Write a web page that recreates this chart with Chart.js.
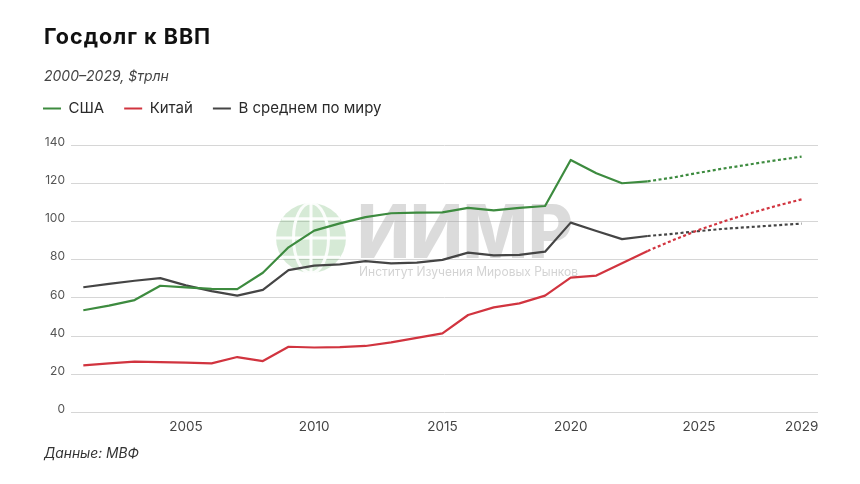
<!DOCTYPE html>
<html><head><meta charset="utf-8">
<script src="https://cdn.jsdelivr.net/npm/chart.js@4"></script>
<style>
html,body{margin:0;padding:0;background:#fff;}
#wrap{position:relative;width:860px;height:484px;overflow:hidden;font-family:Inter,"Noto Sans",sans-serif;}
#c{position:absolute;left:0;top:0;width:860px;height:484px;}
.t{position:absolute;white-space:nowrap;line-height:1;}
#title{left:44px;top:25.5px;font-size:21.5px;font-weight:700;color:#111;letter-spacing:1px;}
#sub{left:44px;top:68.5px;font-size:14px;font-style:italic;color:#444;}
#src{left:44px;top:446.5px;font-size:13.8px;font-style:italic;color:#333;}
</style></head><body>
<div id="wrap">
<canvas id="c" width="860" height="484"></canvas>
<div class="t" id="title">Госдолг к ВВП</div>
<div class="t" id="sub">2000–2029, $трлн</div>
<div class="t" id="src">Данные: МВФ</div>
</div>
<script>
const years = [2001,2002,2003,2004,2005,2006,2007,2008,2009,2010,2011,2012,2013,2014,2015,2016,2017,2018,2019,2020,2021,2022,2023,2024,2025,2026,2027,2028,2029];
const usa   = [53.6,56.0,58.9,66.4,65.5,64.8,64.6,73.2,86.5,95.2,99.0,102.3,104.3,104.6,104.8,107.1,105.8,107.1,108.1,132.2,125.2,120.0,121.0,123.0,125.5,127.8,129.9,132.0,133.9];
const china = [24.8,25.8,26.7,26.4,26.2,25.8,29.1,27.0,34.5,34.1,34.3,34.9,36.8,39.1,41.5,51.1,55.1,57.2,61.2,70.6,71.7,78.1,84.6,90.3,95.6,100.2,104.3,108.1,111.6];
const world = [65.6,67.4,69.0,70.4,66.6,63.6,61.2,64.2,74.6,76.9,77.6,79.3,78.1,78.5,79.9,83.7,82.3,82.5,84.2,99.4,95.0,90.8,92.4,93.6,95.0,96.2,97.1,98.0,98.9];
const forecastFrom = 2023;
const seriesNames = ['США','Китай','В среднем по миру'];
const seriesColors = ['#3d8b3f','#d1343f','#454545'];
const xTickYears = [2005,2010,2015,2020,2025,2029];
const yMin = 0, yMax = 140, yStep = 20;
const watermarkTitle = 'ИИМР';
const watermarkSub = 'Институт Изучения Мировых Рынков';

const seriesValues = [usa, china, world];
const FONT = 'Inter, "Noto Sans", sans-serif';

const datasets = seriesValues.map((vals, k) => ({
  label: seriesNames[k],
  data: years.map((yr, i) => ({x: yr, y: vals[i]})),
  borderColor: seriesColors[k],
  backgroundColor: seriesColors[k],
  borderWidth: 2.2,
  pointRadius: 0,
  pointHoverRadius: 0,
  tension: 0,
  borderCapStyle: 'butt',
  borderJoinStyle: 'round',
  segment: {
    borderDash: ctx => ctx.p0.parsed.x >= forecastFrom ? [3, 2.5] : undefined
  }
}));

const watermark = {
  id: 'watermark',
  beforeDatasetsDraw(chart) {
    const ctx = chart.ctx;
    ctx.save();
    const cx = 311, cy = 238, r = 35;
    ctx.fillStyle = 'rgba(70,160,70,0.22)';
    ctx.beginPath(); ctx.arc(cx, cy, r, 0, Math.PI * 2); ctx.fill();
    ctx.strokeStyle = 'rgba(255,255,255,0.9)';
    ctx.lineWidth = 3;
    ctx.beginPath(); ctx.moveTo(cx - r, cy); ctx.lineTo(cx + r, cy); ctx.stroke();
    ctx.beginPath(); ctx.moveTo(cx, cy - r); ctx.lineTo(cx, cy + r); ctx.stroke();
    ctx.beginPath(); ctx.ellipse(cx, cy, r * 0.5, r, 0, 0, Math.PI * 2); ctx.stroke();
    [-0.55, 0.55].forEach(f => {
      const yy = cy + f * r, hw = Math.sqrt(r * r - (f * r) * (f * r));
      ctx.beginPath(); ctx.moveTo(cx - hw, yy); ctx.lineTo(cx + hw, yy); ctx.stroke();
    });
    ctx.fillStyle = 'rgba(150,150,150,0.34)';
    ctx.font = '800 74px ' + FONT;
    ctx.textBaseline = 'alphabetic';
    ctx.textAlign = 'left';
    ctx.fillText(watermarkTitle, 357, 258, 216);
    ctx.fillStyle = 'rgba(150,150,150,0.42)';
    ctx.font = '12.5px ' + FONT;
    ctx.textBaseline = 'middle';
    ctx.fillText(watermarkSub, 359, 272, 219);
    ctx.restore();
  }
};

const legendSpacer = {
  id: 'legendSpacer',
  beforeInit(chart) {
    const origFit = chart.legend.fit;
    chart.legend.fit = function () {
      origFit.call(this);
      this.height += 19;
    };
  }
};

new Chart(document.getElementById('c'), {
  type: 'line',
  data: {datasets},
  plugins: [legendSpacer, watermark],
  options: {
    responsive: false,
    animation: false,
    events: [],
    layout: {padding: {top: 81, left: 23, right: 42, bottom: 41.3}},
    plugins: {
      tooltip: {enabled: false},
      legend: {
        position: 'top',
        align: 'start',
        labels: {
          boxWidth: 18,
          boxHeight: 2,
          padding: 20,
          color: '#2a2a2a',
          font: {family: FONT, size: 15},
          generateLabels: () => seriesNames.map((n, i) => ({
            text: n, fillStyle: seriesColors[i], strokeStyle: seriesColors[i],
            lineWidth: 0, hidden: false, datasetIndex: i, fontColor: '#2a2a2a'
          }))
        }
      }
    },
    scales: {
      x: {
        type: 'linear',
        min: 2000.52,
        max: 2029.64,
        afterBuildTicks: s => { s.ticks = xTickYears.map(v => ({value: v})); },
        afterFit: s => { s.height = 30; },
        grid: {display: false, drawTicks: false},
        border: {display: false},
        ticks: {
          autoSkip: false, maxRotation: 0, padding: 6,
          color: '#444', font: {family: FONT, size: 13.5},
          callback: v => String(v)
        }
      },
      y: {
        min: yMin, max: yMax,
        afterFit: s => { s.width = 48; },
        grid: {color: '#d6d6d6', lineWidth: 1, drawTicks: false},
        border: {display: false},
        ticks: {
          stepSize: yStep, padding: 6, labelOffset: -3,
          color: '#555', font: {family: FONT, size: 12}
        }
      }
    }
  }
});
</script>
</body></html>
